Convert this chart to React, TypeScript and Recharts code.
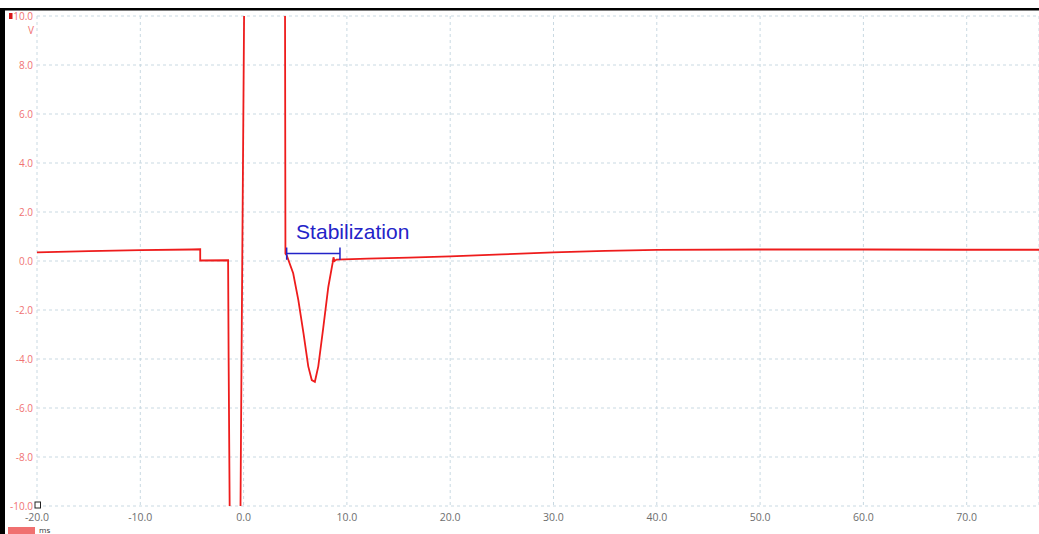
import { LineChart, Line, XAxis, YAxis, CartesianGrid, ReferenceLine, ReferenceDot } from "recharts";

// scope trace, time in ms and voltage in V (values past the rails are clipped)
const timeMs = [
  -20, -15, -10, -5, -4.2, -4.2, -1.5, -1.45, -1.3, -0.35, -0.2, 0.1, 4.0, 4.05,
  4.17, 4.8, 5.3, 5.8, 6.26, 6.6, 6.9, 7.23, 7.72, 8.2, 8.62, 8.7, 8.8, 9.0,
  12, 16, 20, 25, 30, 35, 40, 50, 60, 70, 77,
];
const volts = [
  0.35, 0.4, 0.44, 0.47, 0.48, 0.02, 0.03, -4, -13, -13, -4, 13, 13, 0.3,
  0.24, -0.5, -1.6, -2.95, -4.3, -4.86, -4.93, -4.3, -2.7, -1.06, -0.08, 0.15, 0.0, 0.06,
  0.1, 0.14, 0.19, 0.27, 0.35, 0.41, 0.45, 0.47, 0.47, 0.46, 0.46,
];

const xTicks = [-20, -10, 0, 10, 20, 30, 40, 50, 60, 70];
const yTicks = [-10, -8, -6, -4, -2, 0, 2, 4, 6, 8, 10];

// stabilization window marked on the trace
const stabStart = 4.17;
const stabEnd = 9.33;
const stabLevel = 0.31;

const data = timeMs.map((t, i) => ({ t, v: volts[i] }));

const RED = "#ee1c1c";
const BLUE = "#2323c8";
const FONT = "'Open Sans', 'Noto Sans', sans-serif";

export default function App() {
  return (
    <div style={{ position: "relative", width: 1039, height: 534, background: "#fff" }}>
      <style>{`body{margin:0}`}</style>
      <LineChart
        width={1039}
        height={534}
        data={data}
        margin={{ top: 16, right: 0, bottom: 0, left: 0 }}
      >
        <CartesianGrid stroke="#c9d9e2" strokeDasharray="3 3" />
        <XAxis
          dataKey="t"
          type="number"
          domain={[-20, 77]}
          ticks={xTicks}
          allowDataOverflow
          height={28}
          axisLine={false}
          tickLine={false}
          tickSize={2}
          tickMargin={6}
          tick={{ fill: "#6e6e6e", fontSize: 10.5, fontFamily: FONT }}
          tickFormatter={(v: number) => v.toFixed(1)}
        />
        <YAxis
          type="number"
          domain={[-10, 10]}
          ticks={yTicks}
          allowDataOverflow
          width={37}
          axisLine={false}
          tickLine={false}
          tickSize={2}
          tickMargin={2}
          tick={{ fill: "#f07272", fontSize: 10, fontFamily: FONT }}
          tickFormatter={(v: number) => v.toFixed(1)}
        />
        <Line
          dataKey="v"
          type="linear"
          stroke={RED}
          strokeWidth={1.8}
          dot={false}
          isAnimationActive={false}
        />
        <ReferenceLine
          segment={[{ x: stabStart, y: stabLevel }, { x: stabEnd, y: stabLevel }]}
          stroke={BLUE}
          strokeWidth={1.5}
        />
        <ReferenceLine
          segment={[{ x: stabStart, y: stabLevel - 0.26 }, { x: stabStart, y: stabLevel + 0.24 }]}
          stroke={BLUE}
          strokeWidth={1.5}
        />
        <ReferenceLine
          segment={[{ x: stabEnd, y: stabLevel - 0.26 }, { x: stabEnd, y: stabLevel + 0.24 }]}
          stroke={BLUE}
          strokeWidth={1.5}
        />
        <ReferenceDot
          x={4.6}
          y={1.2}
          r={0}
          fill="none"
          stroke="none"
          label={{
            value: "Stabilization",
            position: "right",
            fill: BLUE,
            fontSize: 21,
            fontFamily: "'Liberation Sans', Arial, sans-serif",
          }}
        />
      </LineChart>
      <svg
        width={1039}
        height={534}
        style={{ position: "absolute", left: 0, top: 0, pointerEvents: "none" }}
      >
        <rect x={0} y={8} width={1039} height={2.5} fill="#000" />
        <rect x={0} y={8} width={5} height={526} fill="#000" />
        <rect x={9} y={13} width={3.5} height={6} fill="#d81818" />
        <text x={31} y={34} textAnchor="middle" fill="#f07272" fontSize={10} fontFamily={FONT}>
          V
        </text>
        <rect x={35} y={502} width={5.5} height={6} fill="#fff" stroke="#222" strokeWidth={1} />
        <rect x={8} y={527} width={27} height={7} fill="#f07070" />
        <text x={39} y={533} fill="#333" fontSize={8} fontFamily={FONT}>
          ms
        </text>
      </svg>
    </div>
  );
}
